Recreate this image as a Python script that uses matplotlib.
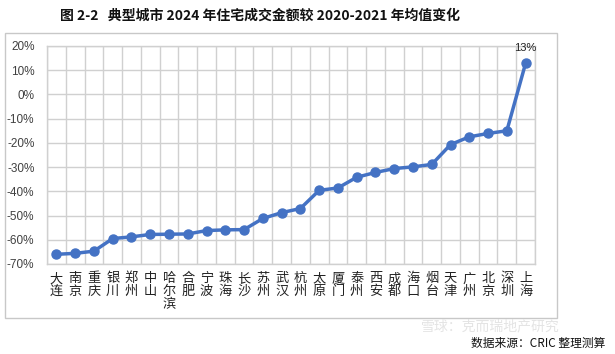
import numpy as np
import matplotlib.pyplot as plt
from matplotlib.patches import Rectangle

plt.rcParams['font.family'] = ['Noto Sans CJK SC', 'DejaVu Sans']

# 城市与数值（%）
cities = ['大连', '南京', '重庆', '银川', '郑州', '中山', '哈尔滨', '合肥', '宁波', '珠海',
          '长沙', '苏州', '武汉', '杭州', '太原', '厦门', '泰州', '西安', '成都', '海口',
          '烟台', '天津', '广州', '北京', '深圳', '上海']
values = [-66.0, -65.6, -64.7, -59.5, -58.8, -57.8, -57.7, -57.6, -56.2, -55.9,
          -55.8, -51.2, -48.8, -47.1, -39.6, -38.6, -34.2, -32.2, -30.6, -29.9,
          -28.9, -20.7, -17.5, -16.1, -15.0, 12.9]
yticks = [20, 10, 0, -10, -20, -30, -40, -50, -60, -70]

fig = plt.figure(figsize=(6.15, 3.54), dpi=100)

# 外框
fig.patches.append(Rectangle((5/615, 1-318/354), 552/615, 285/354, transform=fig.transFigure,
                             fill=False, edgecolor='#C8C8C8', linewidth=1))

ax = fig.add_axes([47/615, 1-264/354, 488/615, 218/354])
x = np.arange(len(cities))
ax.plot(x, values, color='#4472C4', linewidth=2.5, marker='o', markersize=6.5,
        markerfacecolor='#4472C4', markeredgecolor='#4472C4', zorder=3)

ax.set_xlim(-0.5, len(cities) - 0.5)
ax.set_ylim(-70, 20)
ax.set_yticks(yticks)
ax.set_yticklabels([f'{v}%' for v in yticks], fontsize=8.5, color='#404040',
                   family=['Liberation Sans', 'DejaVu Sans'])
ax.set_xticks(x)
ax.set_xticklabels(['\n'.join(c) for c in cities], fontsize=9.5, color='#222222',
                   linespacing=1.0, va='top')
ax.set_xticks(np.arange(-0.5, len(cities)), minor=True)
ax.tick_params(axis='both', which='both', length=0)
ax.tick_params(axis='y', pad=9)
ax.tick_params(axis='x', pad=6)
ax.grid(True, axis='y', color='#D0D0D0', linewidth=1)
ax.grid(True, axis='x', which='minor', color='#D0D0D0', linewidth=1)
ax.grid(False, axis='x', which='major')
for s in ax.spines.values():
    s.set_color('#D0D0D0')
    s.set_linewidth(1)

ax.annotate('13%', (x[-1], values[-1]), xytext=(0, 7), textcoords='offset points',
            ha='center', va='bottom', fontsize=8, color='#222222',
            family=['Liberation Sans', 'DejaVu Sans'])

fig.text(260/615, 1-16/354, '图 2-2   典型城市 2024 年住宅成交金额较 2020-2021 年均值变化',
         ha='center', va='center', fontsize=10, fontweight='bold', color='#111111')

# 水印
fig.text(490/615, 1-326/354, '雪球：克而瑞地产研究', ha='center', va='center',
         fontsize=10, color='#E4E4E4')
fig.text(605/615, 1-343/354, '数据来源：CRIC 整理测算', ha='right', va='center',
         fontsize=8.5, color='#111111')

fig.savefig('out.png', dpi=100)
